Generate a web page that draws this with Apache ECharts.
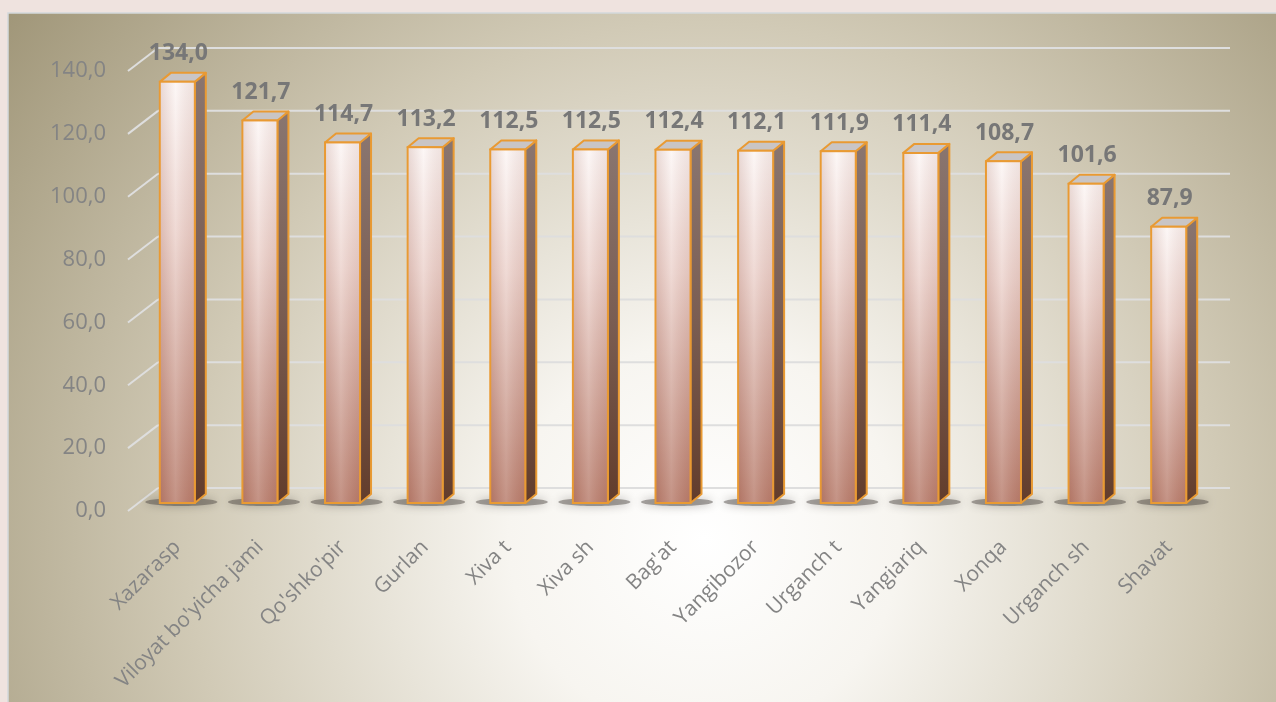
<!DOCTYPE html>
<html>
<head>
<meta charset="utf-8">
<script src="https://cdn.jsdelivr.net/npm/echarts@6/dist/echarts.min.js"></script>
<style>
  html, body { margin: 0; padding: 0; background: #efe3df; }
  #main { width: 1276px; height: 702px; }
</style>
</head>
<body>
<div id="main"></div>
<script>
// tumanlar bo'yicha ko'rsatkich
var categories = ['Xazarasp', "Viloyat bo'yicha jami", "Qo'shko'pir", 'Gurlan', 'Xiva t', 'Xiva sh',
  "Bag'at", 'Yangibozor', 'Urganch t', 'Yangiariq', 'Xonqa', 'Urganch sh', 'Shavat'];
var values = [134.0, 121.7, 114.7, 113.2, 112.5, 112.5, 112.4, 112.1, 111.9, 111.4, 108.7, 101.6, 87.9];
var yTicks = [0, 20, 40, 60, 80, 100, 120, 140];

var chart = echarts.init(document.getElementById('main'), null, { renderer: 'canvas' });

function fmt(v) {
  return v.toFixed(1).replace('.', ',');
}

// 3d look: bars sit a bit behind the label plane, the wall further back
var FRONT_DY = -8;
var WALL_DX = 22, WALL_DY = -23;
var DEPTH_X = 11, DEPTH_Y = -9;
var BAR_W = 35;

function renderGrid(params, api) {
  var cs = params.coordSys;
  var y = api.coord([0, api.value(1)])[1];
  var lineStyle = { stroke: '#dedede', lineWidth: 2 };
  return {
    type: 'group',
    children: [
      { type: 'line', shape: { x1: cs.x - 8, y1: y, x2: cs.x + WALL_DX, y2: y + WALL_DY }, style: lineStyle },
      { type: 'line', shape: { x1: cs.x + WALL_DX, y1: y + WALL_DY, x2: cs.x + cs.width + 20, y2: y + WALL_DY }, style: lineStyle }
    ]
  };
}

function renderShadow(params, api) {
  var base = api.coord([api.value(0), 0]);
  return {
    type: 'ellipse',
    shape: { cx: base[0] + 4, cy: base[1] + FRONT_DY - 1, rx: 36, ry: 4 },
    style: {
      fill: 'rgba(70,65,60,0.45)',
      shadowBlur: 10,
      shadowColor: 'rgba(60,55,50,0.8)'
    }
  };
}

function renderBar(params, api) {
  var i = api.value(0), v = api.value(1);
  var base = api.coord([i, 0]);
  var top = api.coord([i, v]);
  var cx = base[0];
  var x0 = cx - BAR_W / 2, x1 = cx + BAR_W / 2;
  var yb = base[1] + FRONT_DY, yt = top[1] + FRONT_DY;
  var edge = '#e99a33';
  return {
    type: 'group',
    children: [
      {
        type: 'polygon',
        shape: { points: [[x1, yt], [x1 + DEPTH_X, yt + DEPTH_Y], [x1 + DEPTH_X, yb + DEPTH_Y], [x1, yb]] },
        style: {
          fill: new echarts.graphic.LinearGradient(0, 0, 0, 1, [
            { offset: 0, color: '#8a7670' },
            { offset: 0.5, color: '#7a5d52' },
            { offset: 1, color: '#623c2b' }
          ]),
          stroke: edge, lineWidth: 2, lineJoin: 'round'
        }
      },
      {
        type: 'polygon',
        shape: { points: [[x0, yt], [x0 + DEPTH_X, yt + DEPTH_Y], [x1 + DEPTH_X, yt + DEPTH_Y], [x1, yt]] },
        style: { fill: '#c9c5c5', stroke: edge, lineWidth: 2, lineJoin: 'round' }
      },
      {
        type: 'rect',
        shape: { x: x0, y: yt, width: BAR_W, height: yb - yt },
        style: {
          fill: new echarts.graphic.LinearGradient(0, 0, 0, 1, [
            { offset: 0, color: '#fcf6f5' },
            { offset: 0.35, color: '#ecd2cc' },
            { offset: 1, color: '#b77b6a' }
          ]),
          stroke: edge, lineWidth: 2
        }
      },
      {
        type: 'rect',
        shape: { x: x0 + 1, y: yt + 1, width: BAR_W - 2, height: yb - yt - 2 },
        style: {
          fill: new echarts.graphic.LinearGradient(0, 0, 1, 0, [
            { offset: 0, color: 'rgba(150,90,75,0.18)' },
            { offset: 0.45, color: 'rgba(255,255,255,0.18)' },
            { offset: 1, color: 'rgba(150,90,75,0.12)' }
          ])
        }
      },
      {
        type: 'text',
        style: {
          x: cx + 1, y: yt - 28,
          text: fmt(v),
          align: 'center', verticalAlign: 'middle',
          fill: '#777777',
          font: 'bold 23px "Open Sans", sans-serif'
        }
      }
    ]
  };
}

var option = {
  backgroundColor: '#efe3df',
  animation: false,
  graphic: [{
    type: 'rect',
    z: -10,
    shape: { x: 8, y: 13, width: 1290, height: 710 },
    style: {
      fill: {
        type: 'radial', x: 0.54, y: 0.74, r: 1.25,
        colorStops: [
          { offset: 0, color: '#ffffff' },
          { offset: 0.22, color: '#f7f5f0' },
          { offset: 0.58, color: '#d1cab6' },
          { offset: 1, color: '#9e9476' }
        ]
      },
      stroke: '#d3d9dc', lineWidth: 1.5
    }
  }],
  grid: { left: 136, right: 66, top: 71, bottom: 191 },
  xAxis: {
    type: 'category',
    data: categories,
    axisLine: { show: false },
    axisTick: { show: false },
    axisLabel: {
      interval: 0,
      rotate: 45,
      margin: 33,
      color: '#848484',
      fontSize: 21,
      fontFamily: 'Open Sans'
    }
  },
  yAxis: {
    type: 'value',
    min: 0,
    max: 140,
    interval: 20,
    axisLine: { show: false },
    axisTick: { show: false },
    splitLine: { show: false },
    axisLabel: {
      margin: 30,
      color: '#848484',
      fontSize: 22,
      fontFamily: 'Open Sans',
      formatter: function (v) { return fmt(v); }
    }
  },
  series: [
    {
      type: 'custom',
      z: 1,
      renderItem: renderGrid,
      data: yTicks.map(function (t) { return [0, t]; }),
      silent: true
    },
    {
      type: 'custom',
      z: 2,
      renderItem: renderShadow,
      data: values.map(function (v, i) { return [i, v]; }),
      silent: true
    },
    {
      type: 'custom',
      z: 3,
      renderItem: renderBar,
      data: values.map(function (v, i) { return [i, v]; })
    }
  ]
};

chart.setOption(option);
</script>
</body>
</html>
